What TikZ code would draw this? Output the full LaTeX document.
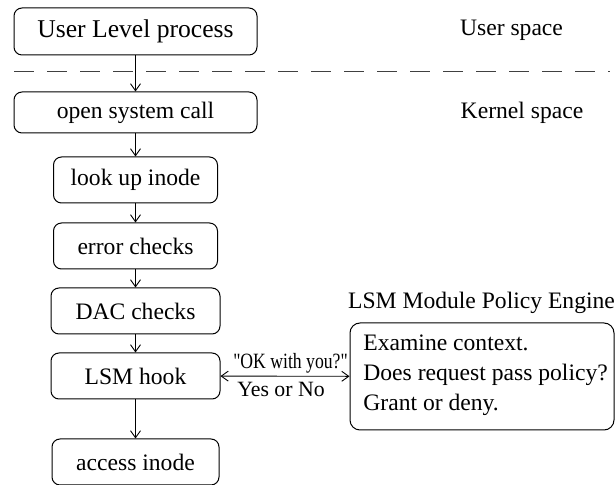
\documentclass[tikz,border=0pt]{standalone}
\usepackage{fontspec}
\setmainfont{Liberation Serif}
\newfontfamily\qfont{Liberation Serif}[Ligatures=TeXOff]
\usetikzlibrary{arrows.meta}
\begin{document}
\begin{tikzpicture}[x=0.5pt,y=-0.5pt,
  box/.style={draw, rounded corners=4pt, line width=0.5pt, inner sep=0pt, font=\fontsize{11.8}{15}\selectfont},
  conn/.style={-{Straight Barb[length=3.5pt,width=5pt]}, line width=0.45pt},
  lbl/.style={font=\fontsize{11.8}{15}\selectfont, inner sep=0pt},
  small/.style={font=\fontsize{10.9}{13}\selectfont, inner sep=0pt},
  sep/.style={draw=black!75, line width=0.5pt, dash pattern=on 10pt off 6.5pt}]
\useasboundingbox (0,0) rectangle (616,485);
\node[box, minimum width=121.5pt, minimum height=23.5pt, font=\fontsize{12.8}{15}\selectfont] (ulp) at (135.5,31.5) {User Level process};
\node[box, minimum width=121.5pt, minimum height=20.5pt] (osc) at (135.5,112.5) {open system call};
\node[box, minimum width=82pt, minimum height=23pt] (lui) at (135.5,180) {look up inode};
\node[box, minimum width=82pt, minimum height=23pt] (err) at (135.5,246) {error checks};
\node[box, minimum width=84.5pt, minimum height=23pt] (dac) at (135.5,311) {DAC checks};
\node[box, minimum width=84.5pt, minimum height=23pt] (lsm) at (135.5,376) {LSM hook};
\node[box, minimum width=83.5pt, minimum height=23pt] (acc) at (135.5,462) {access inode};
\node[box, rounded corners=5pt, minimum width=132pt, minimum height=53.5pt] (pol) at (482,376.5) {};
\node[lbl, anchor=west, align=left] (ptext) at (363,375)
  {Examine context.\\Does request pass policy?\\Grant or deny.};
\node[lbl] (title) at (481.5,303) {LSM Module Policy Engine};
\node[lbl] (us) at (511.5,30) {User space};
\node[lbl] (ks) at (522,113) {Kernel space};
\coordinate (dl) at (14,72);
\coordinate (dr) at (610,72);
\draw[sep] (dl) -- (dr);
\draw[conn] (ulp) -- (osc);
\draw[conn] (osc) -- (lui);
\draw[conn] (lui) -- (err);
\draw[conn] (err) -- (dac);
\draw[conn] (dac) -- (lsm);
\draw[conn] (lsm) -- (acc);
\draw[conn, {Straight Barb[length=3.5pt,width=5pt]}-{Straight Barb[length=3.5pt,width=5pt]}] (lsm) -- (pol);
\node[small] (q) at (290.5,363) {\scalebox{0.81}[1]{\qfont "OK with you?"}};
\node[small] (a) at (281,389) {Yes or No};
\end{tikzpicture}
\end{document}
